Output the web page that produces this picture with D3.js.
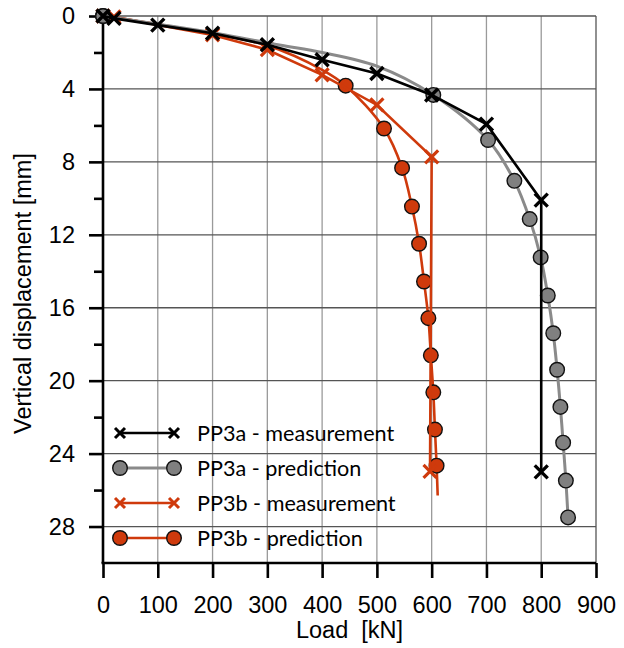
<!DOCTYPE html>
<html>
<head>
<meta charset="utf-8">
<script src="https://cdnjs.cloudflare.com/ajax/libs/d3/7.8.5/d3.min.js"></script>
<style>
  body { margin: 0; background: #fff; }
  svg { display: block; }
  .tick text { font-family: "Liberation Sans", Arial, sans-serif; font-size: 23.5px; fill: #000; }
</style>
</head>
<body>
<svg id="chart" width="624" height="648"></svg>
<script>
const width = 624;
const height = 648;

// PP3a measurement (black crosses)
const aMeasLoad = [0, 20, 100, 200, 300, 400, 500, 600, 700, 800, 800];
const aMeasDisp = [0, 0.13, 0.5, 0.95, 1.58, 2.4, 3.15, 4.33, 5.93, 10.1, 25.0];

// PP3a prediction (grey curve + circles)
const aPredLoad = [0, 100, 200, 322, 400, 500, 603, 703, 751, 779, 799, 812, 822, 829, 835, 840, 845, 849];
const aPredDisp = [0, 0.45, 0.92, 1.59, 2.0, 2.75, 4.33, 6.8, 9.04, 11.14, 13.24, 15.33, 17.4, 19.4, 21.44, 23.4, 25.48, 27.5];
const aDotLoad = [0, 603, 703, 751, 779, 799, 812, 822, 829, 835, 840, 845, 849];
const aDotDisp = [0, 4.33, 6.8, 9.04, 11.14, 13.24, 15.33, 17.4, 19.4, 21.44, 23.4, 25.48, 27.5];

// PP3b measurement (red crosses)
const bMeasLoad = [0, 20, 200, 300, 400, 500, 600, 597];
const bMeasDisp = [0, 0.05, 1.04, 1.85, 3.23, 4.88, 7.72, 24.97];

// PP3b prediction (red curve + circles)
const bPredLoad = [0, 100, 200, 300, 400, 443, 513, 546, 564, 577, 586, 594, 598.5, 603, 606, 609, 611];
const bPredDisp = [0, 0.45, 0.98, 1.62, 2.95, 3.82, 6.17, 8.33, 10.45, 12.49, 14.56, 16.57, 18.61, 20.64, 22.68, 24.66, 26.3];
const bDotLoad = [0, 443, 513, 546, 564, 577, 586, 594, 598.5, 603, 606, 609];
const bDotDisp = [0, 3.82, 6.17, 8.33, 10.45, 12.49, 14.56, 16.57, 18.61, 20.64, 22.68, 24.66];

const xTicks = [0, 100, 200, 300, 400, 500, 600, 700, 800, 900];
const yMajor = [0, 4, 8, 12, 16, 20, 24, 28];
const yMinor = [2, 6, 10, 14, 18, 22, 26];

const legendLabels = ["PP3a - measurement", "PP3a - prediction", "PP3b - measurement", "PP3b - prediction"];

const red = "#cf3a0c";
const grey = "#8a8a8a";

const margin = {top: 16, right: 28, bottom: 85, left: 103};
const w = width - margin.left - margin.right;
const h = height - margin.top - margin.bottom;

const x = d3.scaleLinear().domain([0, 900]).range([0, w]);
const y = d3.scaleLinear().domain([0, 30]).range([0, h]);

const svg = d3.select("#chart");
const g = svg.append("g").attr("transform", `translate(${margin.left},${margin.top})`);

// grid
g.selectAll(".vgrid").data(xTicks.slice(1))
  .join("line")
  .attr("x1", d => x(d)).attr("x2", d => x(d))
  .attr("y1", 0).attr("y2", h)
  .attr("stroke", d => d == 900 ? "#555" : "#9a9a9a")
  .attr("stroke-width", 1.3);

g.selectAll(".hgrid").data(yMajor)
  .join("line")
  .attr("x1", 0).attr("x2", w)
  .attr("y1", d => y(d)).attr("y2", d => y(d))
  .attr("stroke", "#555")
  .attr("stroke-width", 1.3);

// axes
const xAxis = g.append("g")
  .attr("transform", `translate(0,${h})`)
  .call(d3.axisBottom(x).tickValues(xTicks).tickSize(15).tickPadding(18).tickFormat(d3.format("d")));
xAxis.select(".domain").attr("stroke", "#000").attr("stroke-width", 2.6).attr("d", `M-1.5,0H${w}`);
xAxis.selectAll(".tick line").attr("stroke", "#000").attr("stroke-width", 2.6);

const yAxis = g.append("g")
  .call(d3.axisLeft(y).tickValues(yMajor).tickSize(14).tickPadding(14).tickFormat(d3.format("d")));
yAxis.select(".domain").attr("stroke", "#000").attr("stroke-width", 2.6).attr("d", `M0,0V${h}`);
yAxis.selectAll(".tick line").attr("stroke", "#000").attr("stroke-width", 2.6);

g.append("g")
  .call(d3.axisLeft(y).tickValues(yMinor).tickSize(9).tickFormat(""))
  .call(a => a.select(".domain").remove())
  .selectAll(".tick line").attr("stroke", "#000").attr("stroke-width", 2.6);

// axis titles
svg.append("text")
  .attr("x", margin.left + w / 2).attr("y", 638)
  .attr("text-anchor", "middle")
  .style("font-family", "'Liberation Sans', Arial, sans-serif")
  .style("font-size", "23.5px")
  .style("white-space", "pre")
  .text("Load  [kN]");

svg.append("text")
  .attr("transform", `translate(31,${margin.top + h / 2 + 4}) rotate(-90)`)
  .attr("text-anchor", "middle")
  .style("font-family", "'Liberation Sans', Arial, sans-serif")
  .style("font-size", "23.5px")
  .text("Vertical displacement [mm]");

// helpers
const zip = (xs, ys) => xs.map((v, i) => [v, ys[i]]);

function cross(sel, size, color, sw) {
  const s = size / 2;
  sel.append("path")
    .attr("d", `M${-s},${-s}L${s},${s}M${-s},${s}L${s},${-s}`)
    .attr("stroke", color)
    .attr("stroke-width", sw)
    .attr("fill", "none");
}

const straight = d3.line().x(d => x(d[0])).y(d => y(d[1]));
const smooth = d3.line().x(d => x(d[0])).y(d => y(d[1])).curve(d3.curveCatmullRom.alpha(0.5));

// PP3b prediction
g.append("path").datum(zip(bPredLoad, bPredDisp))
  .attr("d", smooth).attr("fill", "none").attr("stroke", red).attr("stroke-width", 2.6);
g.selectAll(".bdot").data(zip(bDotLoad, bDotDisp))
  .join("circle")
  .attr("cx", d => x(d[0])).attr("cy", d => y(d[1])).attr("r", 7.3)
  .attr("fill", red).attr("stroke", "#111").attr("stroke-width", 1.4);

// PP3b measurement
g.append("path").datum(zip(bMeasLoad, bMeasDisp))
  .attr("d", straight).attr("fill", "none").attr("stroke", red).attr("stroke-width", 2.6);
g.selectAll(".bx").data(zip(bMeasLoad, bMeasDisp))
  .join("g")
  .attr("transform", d => `translate(${x(d[0])},${y(d[1])})`)
  .call(cross, 13, red, 3.2);

// PP3a prediction
g.append("path").datum(zip(aPredLoad, aPredDisp))
  .attr("d", smooth).attr("fill", "none").attr("stroke", grey).attr("stroke-width", 3);
g.selectAll(".adot").data(zip(aDotLoad, aDotDisp))
  .join("circle")
  .attr("cx", d => x(d[0])).attr("cy", d => y(d[1])).attr("r", 7.3)
  .attr("fill", "#808080").attr("stroke", "#111").attr("stroke-width", 1.4);

// PP3a measurement
g.append("path").datum(zip(aMeasLoad, aMeasDisp))
  .attr("d", straight).attr("fill", "none").attr("stroke", "#000").attr("stroke-width", 2.6);
g.selectAll(".ax").data(zip(aMeasLoad, aMeasDisp))
  .join("g")
  .attr("transform", d => `translate(${x(d[0])},${y(d[1])})`)
  .call(cross, 13, "#000", 3.4);

// legend
const legend = svg.append("g");
const styles = [
  {color: "#000", mark: "x"},
  {color: grey, fill: "#808080", mark: "o"},
  {color: red, mark: "x"},
  {color: red, fill: red, mark: "o"}
];
legendLabels.forEach((label, i) => {
  const st = styles[i];
  const row = legend.append("g").attr("transform", `translate(0,${433 + i * 35})`);
  row.append("line").attr("x1", 120).attr("x2", 174).attr("y1", 0).attr("y2", 0)
    .attr("stroke", st.color).attr("stroke-width", i == 1 ? 3 : 2.6);
  [120, 174].forEach(px => {
    const m = row.append("g").attr("transform", `translate(${px},0)`);
    if (st.mark == "x") cross(m, 10, st.color, 3);
    else m.append("circle").attr("r", 7.3).attr("fill", st.fill).attr("stroke", "#111").attr("stroke-width", 1.4);
  });
  row.append("text")
    .attr("x", 197).attr("y", 0).attr("dy", "0.35em")
    .style("font-family", "Lato, 'Open Sans', sans-serif")
    .style("font-size", "21.6px")
    .text(label);
});
</script>
</body>
</html>
